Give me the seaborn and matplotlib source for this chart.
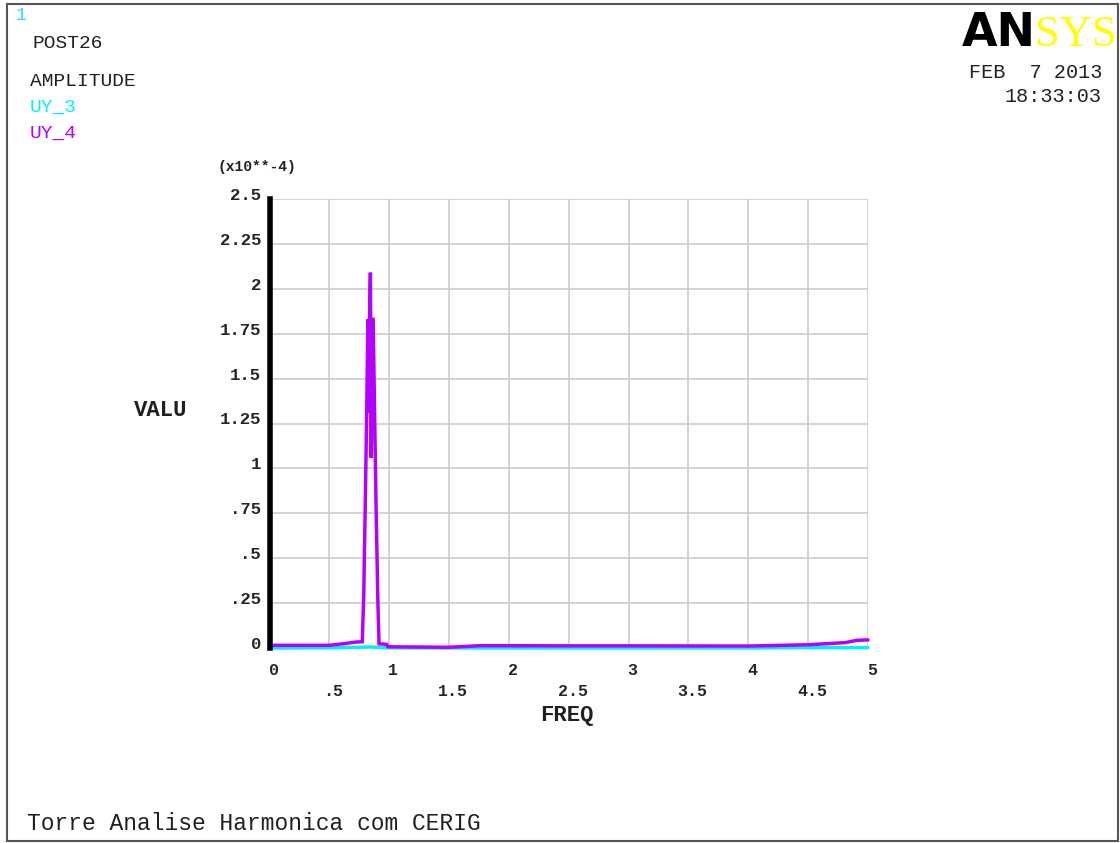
import pandas as pd
import seaborn as sns
import matplotlib.pyplot as plt
import matplotlib.transforms as mtransforms
from matplotlib.patches import Rectangle

# frequency (Hz) and amplitude in units of 1e-4
freq_uy4 = [0.0, 0.5, 0.62, 0.72, 0.775, 0.787, 0.800, 0.812, 0.822, 0.830, 0.836,
            0.843, 0.850, 0.857, 0.866, 0.878, 0.890, 0.905, 0.915, 0.98, 0.99,
            1.5, 1.76, 2.5, 3.0, 4.0, 4.5, 4.81, 4.91, 5.0]
valu_uy4 = [0.015, 0.015, 0.024, 0.033, 0.035, 0.285, 0.80, 1.31, 1.83, 1.31, 1.83,
            2.09, 1.06, 1.83, 1.83, 1.31, 0.80, 0.27, 0.024, 0.020, 0.007,
            0.004, 0.013, 0.012, 0.012, 0.011, 0.018, 0.030, 0.043, 0.045]

freq_uy3 = [0.0, 0.5, 0.75, 0.84, 0.93, 1.0, 2.0, 3.0, 4.0, 4.5, 5.0]
valu_uy3 = [0.0, 0.001, 0.004, 0.006, 0.003, 0.001, 0.0, 0.0, 0.0, 0.002, 0.002]

xticks_major = [0, 1, 2, 3, 4, 5]
xlabels_major = ['0', '1', '2', '3', '4', '5']
xticks_minor = [0.5, 1.5, 2.5, 3.5, 4.5]
xlabels_minor = ['.5', '1.5', '2.5', '3.5', '4.5']
yticks = [0, 0.25, 0.5, 0.75, 1, 1.25, 1.5, 1.75, 2, 2.25, 2.5]
ylabels = ['0', '.25', '.5', '.75', '1', '1.25', '1.5', '1.75', '2', '2.25', '2.5']

df = pd.concat([
    pd.DataFrame({'freq': freq_uy3, 'valu': valu_uy3, 'series': 'UY_3'}),
    pd.DataFrame({'freq': freq_uy4, 'valu': valu_uy4, 'series': 'UY_4'}),
])

sns.set_style("white")
plt.rcParams['font.family'] = ['Liberation Mono', 'DejaVu Sans Mono']

W, H = 1120, 843
fig = plt.figure(figsize=(W / 100, H / 100), dpi=100)
ax = fig.add_axes([269.5 / W, 1 - 648 / H, (868 - 269.5) / W, (648 - 199) / H])

cyan = '#00f0ff'
purple = '#b400ff'
sns.lineplot(data=df, x='freq', y='valu', hue='series', hue_order=['UY_3', 'UY_4'],
             palette={'UY_3': cyan, 'UY_4': purple}, estimator=None, sort=False,
             linewidth=2.5, legend=False, ax=ax)
for ln in ax.lines:
    ln.set_clip_on(False)
    ln.set_solid_joinstyle('miter')

ax.set_xlim(0, 5)
ax.set_ylim(0, 2.5)
ax.set_xticks(xticks_major)
ax.set_xticklabels(xlabels_major)
ax.set_xticks(xticks_minor, minor=True)
ax.set_xticklabels(xlabels_minor, minor=True)
ax.set_yticks(yticks)
ax.set_yticklabels(ylabels)
ax.set_xlabel('')
ax.set_ylabel('')

gridc = '#c8c8c8'
ax.grid(True, which='both', color=gridc, linewidth=1.1)
ax.set_axisbelow(True)
ax.tick_params(axis='x', which='major', length=5, width=1.1, color=gridc, pad=5.5,
               labelsize=12)
ax.tick_params(axis='x', which='minor', length=5, width=1.1, color=gridc, pad=21,
               labelsize=12)
ax.tick_params(axis='y', length=5, width=1.1, color=gridc, pad=1, labelsize=12.5)
for lab in ax.get_xticklabels(which='both') + ax.get_yticklabels():
    lab.set_fontweight('bold')

# ANSYS-style label offsets
dx = mtransforms.ScaledTranslation(4 / 100, 0, fig.dpi_scale_trans)
dy = mtransforms.ScaledTranslation(0, 5 / 100, fig.dpi_scale_trans)
for lab in ax.get_xticklabels(which='both'):
    lab.set_transform(lab.get_transform() + dx)
for lab in ax.get_yticklabels():
    lab.set_transform(lab.get_transform() + dy)

for side in ['top', 'right', 'bottom']:
    ax.spines[side].set_visible(False)
ax.spines['left'].set_color('black')
ax.spines['left'].set_linewidth(4)
ax.spines['left'].set_zorder(5)


def ftext(x, y, s, **kw):
    kw.setdefault('va', 'center')
    fig.text(x / W, 1 - y / H, s, **kw)


ftext(16, 15, '1', color='#30d8ff', fontsize=13)
ftext(32, 44, 'POST26', color='#202020', fontsize=14)
ftext(30, 82, 'AMPLITUDE', color='#202020', fontsize=14)
ftext(30, 107, 'UY_3', color=cyan, fontsize=14)
ftext(30, 133, 'UY_4', color=purple, fontsize=14)
ftext(217, 167, '(x10**-4)', color='#202020', fontsize=10.5, fontweight='bold')
ftext(1102, 72, 'FEB  7 2013', color='#202020', fontsize=14.5, ha='right')
ftext(1102, 97, '18:33:03', color='#202020', fontsize=14.5, ha='right')
ftext(134, 410, 'VALU', color='#202020', fontsize=16, fontweight='bold')
ftext(567, 716, 'FREQ', color='#202020', fontsize=16, fontweight='bold', ha='center')
ftext(27, 823, 'Torre Analise Harmonica com CERIG', color='#202020', fontsize=16.5)

# logo
ftext(962, 46, 'AN', color='black', fontsize=33, fontweight='heavy',
      family='DejaVu Sans', va='baseline')
ftext(1035, 46, 'SYS', color='#ffff00', fontsize=32, family='Liberation Serif',
      va='baseline')

fig.patches.append(Rectangle((7 / W, 2 / H), (1118 - 7) / W, (841 - 4) / H,
                             transform=fig.transFigure, fill=False,
                             edgecolor='#555555', linewidth=1.5))

fig.savefig('out.png', dpi=100)
